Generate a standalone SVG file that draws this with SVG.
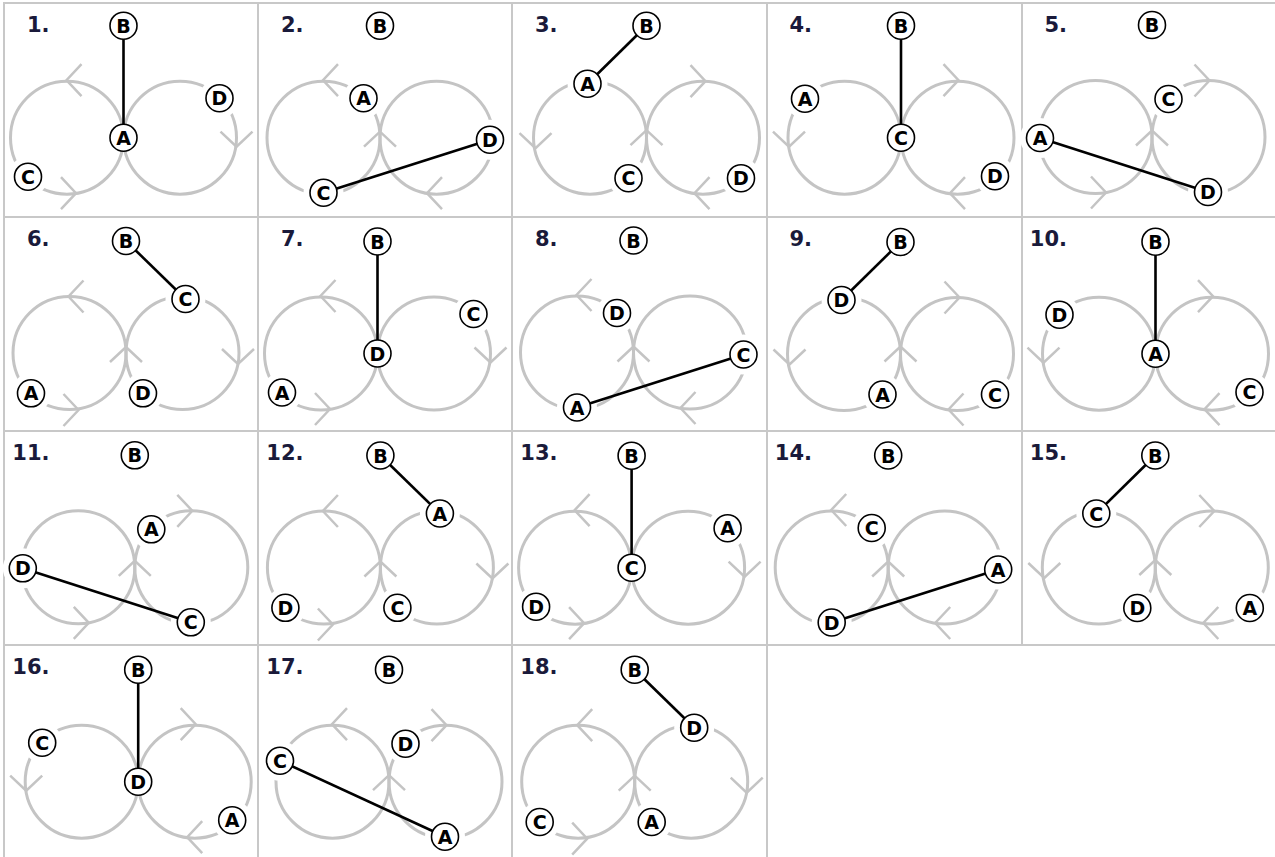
<svg xmlns="http://www.w3.org/2000/svg" xmlns:xlink="http://www.w3.org/1999/xlink" width="1275" height="857" viewBox="0 0 1275 857">
<style>
.grid line{stroke:#c8c8c8;stroke-width:2}
.num{font-family:"DejaVu Sans",sans-serif;font-weight:bold;font-size:21px;fill:#1a1a3a;text-anchor:end}
.gap{fill:#fff;stroke:none}
.node circle{fill:#fff;stroke:#000;stroke-width:1.6}
.node text{font-family:"DejaVu Sans",sans-serif;font-weight:bold;font-size:19px;text-anchor:middle;fill:#000;transform:translateY(0.5px)}
.conn line{stroke:#000;stroke-width:2.6}
</style>
<defs>
<g id="loops" fill="none" stroke="#c4c4c4" stroke-width="3"><circle cx="-56.5" cy="0" r="56.5"/><circle cx="56.5" cy="0" r="56.5"/></g>
<path id="chev-l" d="M15,-16 L0,0 L15,16" fill="none" stroke="#c4c4c4" stroke-width="2.5"/>
<path id="chev-r" d="M-15,-16 L0,0 L-15,16" fill="none" stroke="#c4c4c4" stroke-width="2.5"/>
<path id="chev-d" d="M-16,-15 L0,0 L16,-15" fill="none" stroke="#c4c4c4" stroke-width="2.5"/>
<path id="chev-u" d="M-16,15 L0,0 L16,15" fill="none" stroke="#c4c4c4" stroke-width="2.5"/>
</defs>
<rect width="1275" height="857" fill="#fff"/>
<g id="grid" class="grid">
<line x1="3" y1="3" x2="1275" y2="3"/>
<line x1="3" y1="217" x2="1275" y2="217"/>
<line x1="3" y1="431" x2="1275" y2="431"/>
<line x1="3" y1="645" x2="1275" y2="645"/>
<line x1="4" y1="2" x2="4" y2="857"/>
<line x1="258" y1="2" x2="258" y2="857"/>
<line x1="512" y1="2" x2="512" y2="857"/>
<line x1="767" y1="2" x2="767" y2="857"/>
<line x1="1022" y1="2" x2="1022" y2="645"/>
</g>

<!-- Panel 1 (P1) -->
<g id="panel-1">
<text class="num" x="49.5" y="32">1.</text>
<g transform="translate(123.5,137.7)">
<use href="#loops"/>
<circle class="gap" cx="96" cy="-39.5" r="20"/><circle class="gap" cx="-95.5" cy="39" r="20"/>
<use href="#chev-l" x="-57" y="-57.5"/><use href="#chev-r" x="-47.5" y="55.5"/><use href="#chev-d" x="113" y="9"/>
<g class="conn"><line x1="0" y1="-112" x2="0" y2="0"/></g>
<g id="p1-B" class="node"><circle cx="0" cy="-112" r="13.5"/><text x="0" y="-105.5">B</text></g>
<g id="p1-A" class="node"><circle cx="0" cy="0" r="13.5"/><text x="0" y="6.5">A</text></g>
<g id="p1-D" class="node"><circle cx="96" cy="-39.5" r="13.5"/><text x="96" y="-33">D</text></g>
<g id="p1-C" class="node"><circle cx="-95.5" cy="39" r="13.5"/><text x="-95.5" y="45.5">C</text></g>
</g>
</g>

<!-- Panel 2 (P2) -->
<g id="panel-2">
<text class="num" x="303.5" y="32">2.</text>
<g transform="translate(380,137.7)">
<use href="#loops"/>
<circle class="gap" cx="-16.5" cy="-39.5" r="20"/><circle class="gap" cx="110" cy="2" r="20"/><circle class="gap" cx="-56.5" cy="55" r="20"/>
<use href="#chev-l" x="-57" y="-57.5"/><use href="#chev-l" x="47" y="55.5"/><use href="#chev-u" x="0" y="-6"/>
<g class="conn"><line x1="-56.5" y1="55" x2="110" y2="2"/></g>
<g id="p2-B" class="node"><circle cx="0" cy="-112" r="13.5"/><text x="0" y="-105.5">B</text></g>
<g id="p2-A" class="node"><circle cx="-16.5" cy="-39.5" r="13.5"/><text x="-16.5" y="-33">A</text></g>
<g id="p2-D" class="node"><circle cx="110" cy="2" r="13.5"/><text x="110" y="8.5">D</text></g>
<g id="p2-C" class="node"><circle cx="-56.5" cy="55" r="13.5"/><text x="-56.5" y="61.5">C</text></g>
</g>
</g>

<!-- Panel 3 (P3) -->
<g id="panel-3">
<text class="num" x="557.5" y="32">3.</text>
<g transform="translate(646.5,137.7)">
<use href="#loops"/>
<circle class="gap" cx="-59" cy="-54" r="20"/><circle class="gap" cx="-18" cy="40.5" r="20"/><circle class="gap" cx="94.5" cy="40.5" r="20"/>
<use href="#chev-d" x="-111" y="10.5"/><use href="#chev-r" x="59" y="-56.5"/><use href="#chev-l" x="48" y="55.5"/><use href="#chev-u" x="0" y="-7.5"/>
<g class="conn"><line x1="0" y1="-112" x2="-59" y2="-54"/></g>
<g id="p3-B" class="node"><circle cx="0" cy="-112" r="13.5"/><text x="0" y="-105.5">B</text></g>
<g id="p3-A" class="node"><circle cx="-59" cy="-54" r="13.5"/><text x="-59" y="-47.5">A</text></g>
<g id="p3-C" class="node"><circle cx="-18" cy="40.5" r="13.5"/><text x="-18" y="47">C</text></g>
<g id="p3-D" class="node"><circle cx="94.5" cy="40.5" r="13.5"/><text x="94.5" y="47">D</text></g>
</g>
</g>

<!-- Panel 4 (P4) -->
<g id="panel-4">
<text class="num" x="812" y="32">4.</text>
<g transform="translate(901,137.7)">
<use href="#loops"/>
<circle class="gap" cx="-96" cy="-39" r="20"/><circle class="gap" cx="94" cy="38.5" r="20"/>
<use href="#chev-d" x="-112" y="9"/><use href="#chev-r" x="57.5" y="-57.5"/><use href="#chev-l" x="49" y="55.5"/>
<g class="conn"><line x1="0" y1="-112" x2="0" y2="0"/></g>
<g id="p4-B" class="node"><circle cx="0" cy="-112" r="13.5"/><text x="0" y="-105.5">B</text></g>
<g id="p4-C" class="node"><circle cx="0" cy="0" r="13.5"/><text x="0" y="6.5">C</text></g>
<g id="p4-A" class="node"><circle cx="-96" cy="-39" r="13.5"/><text x="-96" y="-32.5">A</text></g>
<g id="p4-D" class="node"><circle cx="94" cy="38.5" r="13.5"/><text x="94" y="45">D</text></g>
</g>
</g>

<!-- Panel 5 (P5) -->
<g id="panel-5">
<text class="num" x="1067" y="32">5.</text>
<g transform="translate(1152,137)">
<use href="#loops"/>
<circle class="gap" cx="16.5" cy="-38" r="20"/><circle class="gap" cx="-112" cy="1" r="20"/><circle class="gap" cx="56" cy="55" r="20"/>
<use href="#chev-r" x="-46" y="55.5"/><use href="#chev-r" x="57.5" y="-56.5"/><use href="#chev-u" x="0" y="-6.5"/>
<g class="conn"><line x1="-112" y1="1" x2="56" y2="55"/></g>
<g id="p5-B" class="node"><circle cx="0" cy="-112" r="13.5"/><text x="0" y="-105.5">B</text></g>
<g id="p5-C" class="node"><circle cx="16.5" cy="-38" r="13.5"/><text x="16.5" y="-31.5">C</text></g>
<g id="p5-A" class="node"><circle cx="-112" cy="1" r="13.5"/><text x="-112" y="7.5">A</text></g>
<g id="p5-D" class="node"><circle cx="56" cy="55" r="13.5"/><text x="56" y="61.5">D</text></g>
</g>
</g>

<!-- Panel 6 (P6) -->
<g id="panel-6">
<text class="num" x="49.5" y="246">6.</text>
<g transform="translate(126,353)">
<use href="#loops"/>
<circle class="gap" cx="59.5" cy="-54" r="20"/><circle class="gap" cx="-95" cy="40.3" r="20"/><circle class="gap" cx="17" cy="40.3" r="20"/>
<use href="#chev-l" x="-57.5" y="-56.5"/><use href="#chev-r" x="-47.5" y="57"/><use href="#chev-d" x="112" y="11"/><use href="#chev-u" x="0" y="-6"/>
<g class="conn"><line x1="0" y1="-112" x2="59.5" y2="-54"/></g>
<g id="p6-B" class="node"><circle cx="0" cy="-112" r="13.5"/><text x="0" y="-105.5">B</text></g>
<g id="p6-C" class="node"><circle cx="59.5" cy="-54" r="13.5"/><text x="59.5" y="-47.5">C</text></g>
<g id="p6-A" class="node"><circle cx="-95" cy="40.3" r="13.5"/><text x="-95" y="46.8">A</text></g>
<g id="p6-D" class="node"><circle cx="17" cy="40.3" r="13.5"/><text x="17" y="46.8">D</text></g>
</g>
</g>

<!-- Panel 7 (P1) -->
<g id="panel-7">
<text class="num" x="303.5" y="246">7.</text>
<g transform="translate(377.5,353.5)">
<use href="#loops"/>
<circle class="gap" cx="96" cy="-39.5" r="20"/><circle class="gap" cx="-95.5" cy="39" r="20"/>
<use href="#chev-l" x="-57" y="-57.5"/><use href="#chev-r" x="-47.5" y="55.5"/><use href="#chev-d" x="113" y="9"/>
<g class="conn"><line x1="0" y1="-112" x2="0" y2="0"/></g>
<g id="p7-B" class="node"><circle cx="0" cy="-112" r="13.5"/><text x="0" y="-105.5">B</text></g>
<g id="p7-D" class="node"><circle cx="0" cy="0" r="13.5"/><text x="0" y="6.5">D</text></g>
<g id="p7-C" class="node"><circle cx="96" cy="-39.5" r="13.5"/><text x="96" y="-33">C</text></g>
<g id="p7-A" class="node"><circle cx="-95.5" cy="39" r="13.5"/><text x="-95.5" y="45.5">A</text></g>
</g>
</g>

<!-- Panel 8 (P2) -->
<g id="panel-8">
<text class="num" x="557.5" y="246">8.</text>
<g transform="translate(633.5,352.5)">
<use href="#loops"/>
<circle class="gap" cx="-16.5" cy="-39.5" r="20"/><circle class="gap" cx="110" cy="2" r="20"/><circle class="gap" cx="-56.5" cy="55" r="20"/>
<use href="#chev-l" x="-57" y="-57.5"/><use href="#chev-l" x="47" y="55.5"/><use href="#chev-u" x="0" y="-6"/>
<g class="conn"><line x1="-56.5" y1="55" x2="110" y2="2"/></g>
<g id="p8-B" class="node"><circle cx="0" cy="-112" r="13.5"/><text x="0" y="-105.5">B</text></g>
<g id="p8-D" class="node"><circle cx="-16.5" cy="-39.5" r="13.5"/><text x="-16.5" y="-33">D</text></g>
<g id="p8-C" class="node"><circle cx="110" cy="2" r="13.5"/><text x="110" y="8.5">C</text></g>
<g id="p8-A" class="node"><circle cx="-56.5" cy="55" r="13.5"/><text x="-56.5" y="61.5">A</text></g>
</g>
</g>

<!-- Panel 9 (P3) -->
<g id="panel-9">
<text class="num" x="812" y="246">9.</text>
<g transform="translate(900.5,354)">
<use href="#loops"/>
<circle class="gap" cx="-59" cy="-54" r="20"/><circle class="gap" cx="-18" cy="40.5" r="20"/><circle class="gap" cx="94.5" cy="40.5" r="20"/>
<use href="#chev-d" x="-111" y="10.5"/><use href="#chev-r" x="59" y="-56.5"/><use href="#chev-l" x="48" y="55.5"/><use href="#chev-u" x="0" y="-7.5"/>
<g class="conn"><line x1="0" y1="-112" x2="-59" y2="-54"/></g>
<g id="p9-B" class="node"><circle cx="0" cy="-112" r="13.5"/><text x="0" y="-105.5">B</text></g>
<g id="p9-D" class="node"><circle cx="-59" cy="-54" r="13.5"/><text x="-59" y="-47.5">D</text></g>
<g id="p9-A" class="node"><circle cx="-18" cy="40.5" r="13.5"/><text x="-18" y="47">A</text></g>
<g id="p9-C" class="node"><circle cx="94.5" cy="40.5" r="13.5"/><text x="94.5" y="47">C</text></g>
</g>
</g>

<!-- Panel 10 (P4) -->
<g id="panel-10">
<text class="num" x="1067" y="246">10.</text>
<g transform="translate(1155.5,353.7)">
<use href="#loops"/>
<circle class="gap" cx="-96" cy="-39" r="20"/><circle class="gap" cx="94" cy="38.5" r="20"/>
<use href="#chev-d" x="-112" y="9"/><use href="#chev-r" x="57.5" y="-57.5"/><use href="#chev-l" x="49" y="55.5"/>
<g class="conn"><line x1="0" y1="-112" x2="0" y2="0"/></g>
<g id="p10-B" class="node"><circle cx="0" cy="-112" r="13.5"/><text x="0" y="-105.5">B</text></g>
<g id="p10-A" class="node"><circle cx="0" cy="0" r="13.5"/><text x="0" y="6.5">A</text></g>
<g id="p10-D" class="node"><circle cx="-96" cy="-39" r="13.5"/><text x="-96" y="-32.5">D</text></g>
<g id="p10-C" class="node"><circle cx="94" cy="38.5" r="13.5"/><text x="94" y="45">C</text></g>
</g>
</g>

<!-- Panel 11 (P5) -->
<g id="panel-11">
<text class="num" x="49.5" y="460">11.</text>
<g transform="translate(134.8,567.3)">
<use href="#loops"/>
<circle class="gap" cx="16.5" cy="-38" r="20"/><circle class="gap" cx="-112" cy="1" r="20"/><circle class="gap" cx="56" cy="55" r="20"/>
<use href="#chev-r" x="-46" y="55.5"/><use href="#chev-r" x="57.5" y="-56.5"/><use href="#chev-u" x="0" y="-6.5"/>
<g class="conn"><line x1="-112" y1="1" x2="56" y2="55"/></g>
<g id="p11-B" class="node"><circle cx="0" cy="-112" r="13.5"/><text x="0" y="-105.5">B</text></g>
<g id="p11-A" class="node"><circle cx="16.5" cy="-38" r="13.5"/><text x="16.5" y="-31.5">A</text></g>
<g id="p11-D" class="node"><circle cx="-112" cy="1" r="13.5"/><text x="-112" y="7.5">D</text></g>
<g id="p11-C" class="node"><circle cx="56" cy="55" r="13.5"/><text x="56" y="61.5">C</text></g>
</g>
</g>

<!-- Panel 12 (P6) -->
<g id="panel-12">
<text class="num" x="303.5" y="460">12.</text>
<g transform="translate(380.4,567.5)">
<use href="#loops"/>
<circle class="gap" cx="59.5" cy="-54" r="20"/><circle class="gap" cx="-95" cy="40.3" r="20"/><circle class="gap" cx="17" cy="40.3" r="20"/>
<use href="#chev-l" x="-57.5" y="-56.5"/><use href="#chev-r" x="-47.5" y="57"/><use href="#chev-d" x="112" y="11"/><use href="#chev-u" x="0" y="-6"/>
<g class="conn"><line x1="0" y1="-112" x2="59.5" y2="-54"/></g>
<g id="p12-B" class="node"><circle cx="0" cy="-112" r="13.5"/><text x="0" y="-105.5">B</text></g>
<g id="p12-A" class="node"><circle cx="59.5" cy="-54" r="13.5"/><text x="59.5" y="-47.5">A</text></g>
<g id="p12-D" class="node"><circle cx="-95" cy="40.3" r="13.5"/><text x="-95" y="46.8">D</text></g>
<g id="p12-C" class="node"><circle cx="17" cy="40.3" r="13.5"/><text x="17" y="46.8">C</text></g>
</g>
</g>

<!-- Panel 13 (P1) -->
<g id="panel-13">
<text class="num" x="557.5" y="460">13.</text>
<g transform="translate(631.6,567.7)">
<use href="#loops"/>
<circle class="gap" cx="96" cy="-39.5" r="20"/><circle class="gap" cx="-95.5" cy="39" r="20"/>
<use href="#chev-l" x="-57" y="-57.5"/><use href="#chev-r" x="-47.5" y="55.5"/><use href="#chev-d" x="113" y="9"/>
<g class="conn"><line x1="0" y1="-112" x2="0" y2="0"/></g>
<g id="p13-B" class="node"><circle cx="0" cy="-112" r="13.5"/><text x="0" y="-105.5">B</text></g>
<g id="p13-C" class="node"><circle cx="0" cy="0" r="13.5"/><text x="0" y="6.5">C</text></g>
<g id="p13-A" class="node"><circle cx="96" cy="-39.5" r="13.5"/><text x="96" y="-33">A</text></g>
<g id="p13-D" class="node"><circle cx="-95.5" cy="39" r="13.5"/><text x="-95.5" y="45.5">D</text></g>
</g>
</g>

<!-- Panel 14 (P2) -->
<g id="panel-14">
<text class="num" x="812" y="460">14.</text>
<g transform="translate(888.2,567.5)">
<use href="#loops"/>
<circle class="gap" cx="-16.5" cy="-39.5" r="20"/><circle class="gap" cx="110" cy="2" r="20"/><circle class="gap" cx="-56.5" cy="55" r="20"/>
<use href="#chev-l" x="-57" y="-57.5"/><use href="#chev-l" x="47" y="55.5"/><use href="#chev-u" x="0" y="-6"/>
<g class="conn"><line x1="-56.5" y1="55" x2="110" y2="2"/></g>
<g id="p14-B" class="node"><circle cx="0" cy="-112" r="13.5"/><text x="0" y="-105.5">B</text></g>
<g id="p14-C" class="node"><circle cx="-16.5" cy="-39.5" r="13.5"/><text x="-16.5" y="-33">C</text></g>
<g id="p14-A" class="node"><circle cx="110" cy="2" r="13.5"/><text x="110" y="8.5">A</text></g>
<g id="p14-D" class="node"><circle cx="-56.5" cy="55" r="13.5"/><text x="-56.5" y="61.5">D</text></g>
</g>
</g>

<!-- Panel 15 (P3) -->
<g id="panel-15">
<text class="num" x="1067" y="460">15.</text>
<g transform="translate(1155.3,567.5)">
<use href="#loops"/>
<circle class="gap" cx="-59" cy="-54" r="20"/><circle class="gap" cx="-18" cy="40.5" r="20"/><circle class="gap" cx="94.5" cy="40.5" r="20"/>
<use href="#chev-d" x="-111" y="10.5"/><use href="#chev-r" x="59" y="-56.5"/><use href="#chev-l" x="48" y="55.5"/><use href="#chev-u" x="0" y="-7.5"/>
<g class="conn"><line x1="0" y1="-112" x2="-59" y2="-54"/></g>
<g id="p15-B" class="node"><circle cx="0" cy="-112" r="13.5"/><text x="0" y="-105.5">B</text></g>
<g id="p15-C" class="node"><circle cx="-59" cy="-54" r="13.5"/><text x="-59" y="-47.5">C</text></g>
<g id="p15-D" class="node"><circle cx="-18" cy="40.5" r="13.5"/><text x="-18" y="47">D</text></g>
<g id="p15-A" class="node"><circle cx="94.5" cy="40.5" r="13.5"/><text x="94.5" y="47">A</text></g>
</g>
</g>

<!-- Panel 16 (P4) -->
<g id="panel-16">
<text class="num" x="49.5" y="674">16.</text>
<g transform="translate(138.2,781.7)">
<use href="#loops"/>
<circle class="gap" cx="-96" cy="-39" r="20"/><circle class="gap" cx="94" cy="38.5" r="20"/>
<use href="#chev-d" x="-112" y="9"/><use href="#chev-r" x="57.5" y="-57.5"/><use href="#chev-l" x="49" y="55.5"/>
<g class="conn"><line x1="0" y1="-112" x2="0" y2="0"/></g>
<g id="p16-B" class="node"><circle cx="0" cy="-112" r="13.5"/><text x="0" y="-105.5">B</text></g>
<g id="p16-D" class="node"><circle cx="0" cy="0" r="13.5"/><text x="0" y="6.5">D</text></g>
<g id="p16-C" class="node"><circle cx="-96" cy="-39" r="13.5"/><text x="-96" y="-32.5">C</text></g>
<g id="p16-A" class="node"><circle cx="94" cy="38.5" r="13.5"/><text x="94" y="45">A</text></g>
</g>
</g>

<!-- Panel 17 (P5 variant) -->
<g id="panel-17">
<text class="num" x="303.5" y="674">17.</text>
<g transform="translate(389,781.7)">
<use href="#loops"/>
<circle class="gap" cx="16.5" cy="-38" r="20"/><circle class="gap" cx="-109" cy="-21" r="20"/><circle class="gap" cx="56" cy="55" r="20"/>
<use href="#chev-l" x="-57" y="-57.5"/><use href="#chev-r" x="57.5" y="-56.5"/><use href="#chev-u" x="0" y="-6.5"/>
<g class="conn"><line x1="-109" y1="-21" x2="56" y2="55"/></g>
<g id="p17-B" class="node"><circle cx="0" cy="-112" r="13.5"/><text x="0" y="-105.5">B</text></g>
<g id="p17-D" class="node"><circle cx="16.5" cy="-38" r="13.5"/><text x="16.5" y="-31.5">D</text></g>
<g id="p17-C" class="node"><circle cx="-109" cy="-21" r="13.5"/><text x="-109" y="-14.5">C</text></g>
<g id="p17-A" class="node"><circle cx="56" cy="55" r="13.5"/><text x="56" y="61.5">A</text></g>
</g>
</g>

<!-- Panel 18 (P6) -->
<g id="panel-18">
<text class="num" x="557.5" y="674">18.</text>
<g transform="translate(634.7,781.7)">
<use href="#loops"/>
<circle class="gap" cx="59.5" cy="-54" r="20"/><circle class="gap" cx="-95" cy="40.3" r="20"/><circle class="gap" cx="17" cy="40.3" r="20"/>
<use href="#chev-l" x="-57.5" y="-56.5"/><use href="#chev-r" x="-47.5" y="57"/><use href="#chev-d" x="112" y="11"/><use href="#chev-u" x="0" y="-6"/>
<g class="conn"><line x1="0" y1="-112" x2="59.5" y2="-54"/></g>
<g id="p18-B" class="node"><circle cx="0" cy="-112" r="13.5"/><text x="0" y="-105.5">B</text></g>
<g id="p18-D" class="node"><circle cx="59.5" cy="-54" r="13.5"/><text x="59.5" y="-47.5">D</text></g>
<g id="p18-C" class="node"><circle cx="-95" cy="40.3" r="13.5"/><text x="-95" y="46.8">C</text></g>
<g id="p18-A" class="node"><circle cx="17" cy="40.3" r="13.5"/><text x="17" y="46.8">A</text></g>
</g>
</g>
</svg>
